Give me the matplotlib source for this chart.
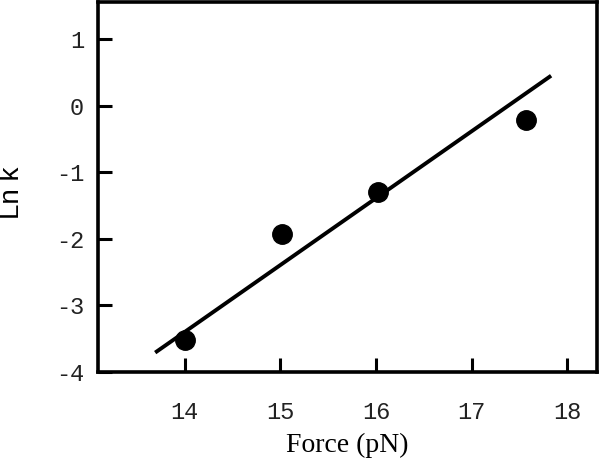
"""Ln k versus force: four measured points with a straight-line fit."""

import matplotlib
matplotlib.use("Agg")
import matplotlib.pyplot as plt

plt.rcParams["axes.unicode_minus"] = False

force = [14.0, 15.02, 16.02, 17.57]
ln_k = [-3.52, -1.93, -1.29, -0.21]

# fitted line as drawn (end points)
fit_force = [13.69, 17.83]
fit_ln_k = [-3.71, 0.45]

x_ticks = [14, 15, 16, 17, 18]
y_ticks = [-4, -3, -2, -1, 0, 1]


def main():
    fig = plt.figure(figsize=(6.0, 4.58), dpi=100)
    ax = fig.add_axes([0.163, 0.188, 0.832, 0.808])

    ax.plot(fit_force, fit_ln_k, color="black", lw=2.8, solid_capstyle="butt")
    ax.plot(force, ln_k, "o", color="black", ms=14, zorder=3)

    ax.set_xlim(13.09, 18.31)
    ax.set_ylim(-4, 1.56)
    ax.set_xticks(x_ticks)
    ax.set_yticks(y_ticks)

    for sp in ax.spines.values():
        sp.set_linewidth(2.6)
    ax.tick_params(direction="in", length=10, width=2.2, labelsize=17,
                   labelcolor="#222222")
    ax.tick_params(axis="x", pad=21)
    ax.tick_params(axis="y", pad=10)
    for lab in ax.get_xticklabels() + ax.get_yticklabels():
        lab.set_family("Liberation Mono")

    ax.set_xlabel("Force (pN)", family="Liberation Serif", fontsize=20, labelpad=6)
    ax.set_ylabel("Ln k", family="Liberation Sans", fontsize=20)
    ax.yaxis.set_label_coords(-0.145, 0.485)

    fig.savefig("out.png", dpi=100)
    plt.close(fig)


if __name__ == "__main__":
    main()
